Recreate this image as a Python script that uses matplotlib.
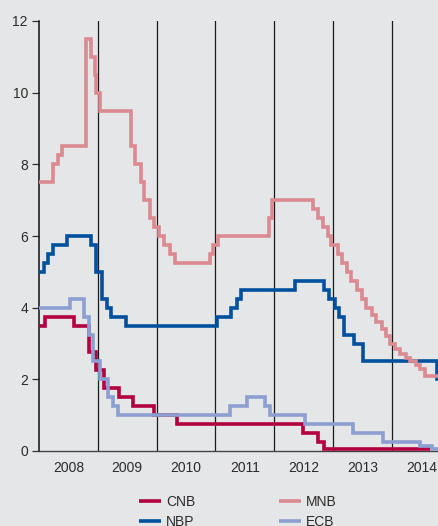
import numpy as np
import pandas as pd
import matplotlib
matplotlib.use("Agg")
import matplotlib.pyplot as plt

# policy rates (%), each value holds from its date until the next one
cnb_dates = ["2008-01-01", "2008-02-08", "2008-08-08", "2008-11-07", "2008-12-18",
             "2009-02-06", "2009-05-11", "2009-08-07", "2009-12-17", "2010-05-07",
             "2012-06-29", "2012-10-01", "2012-11-02", "2014-08-25"]
cnb_rates = [3.50, 3.75, 3.50, 2.75, 2.25,
             1.75, 1.50, 1.25, 1.00, 0.75,
             0.50, 0.25, 0.05, 0.05]

mnb_dates = ["2008-01-01", "2008-03-31", "2008-04-28", "2008-05-26", "2008-10-22",
             "2008-11-18", "2008-12-12", "2008-12-23", "2009-01-15", "2009-07-25",
             "2009-08-19", "2009-09-25", "2009-10-16", "2009-11-20", "2009-12-17",
             "2010-01-17", "2010-02-17", "2010-03-25", "2010-04-23", "2010-11-26",
             "2010-12-17", "2011-01-18", "2011-11-29", "2011-12-20", "2012-08-29",
             "2012-09-26", "2012-10-31", "2012-11-28", "2012-12-19", "2013-01-30",
             "2013-02-27", "2013-03-27", "2013-04-24", "2013-05-29", "2013-06-26",
             "2013-07-24", "2013-08-28", "2013-09-25", "2013-10-30", "2013-11-27",
             "2013-12-18", "2014-01-22", "2014-02-19", "2014-03-26", "2014-04-23",
             "2014-05-28", "2014-06-24", "2014-07-22", "2014-11-30"]
mnb_rates = [7.50, 8.00, 8.25, 8.50, 11.50,
             11.00, 10.50, 10.00, 9.50, 8.50,
             8.00, 7.50, 7.00, 6.50, 6.25,
             6.00, 5.75, 5.50, 5.25, 5.50,
             5.75, 6.00, 6.50, 7.00, 6.75,
             6.50, 6.25, 6.00, 5.75, 5.50,
             5.25, 5.00, 4.75, 4.50, 4.25,
             4.00, 3.80, 3.60, 3.40, 3.20,
             3.00, 2.85, 2.70, 2.60, 2.50,
             2.40, 2.30, 2.10, 2.10]

nbp_dates = ["2008-01-01", "2008-01-31", "2008-02-28", "2008-03-27", "2008-06-26",
             "2008-11-20", "2008-12-18", "2009-01-28", "2009-02-26", "2009-03-26",
             "2009-06-25", "2011-01-12", "2011-04-06", "2011-05-12", "2011-06-09",
             "2012-05-10", "2012-11-08", "2012-12-06", "2013-01-10", "2013-02-07",
             "2013-03-07", "2013-05-09", "2013-07-04", "2014-10-09", "2014-11-30"]
nbp_rates = [5.00, 5.25, 5.50, 5.75, 6.00,
             5.75, 5.00, 4.25, 4.00, 3.75,
             3.50, 3.75, 4.00, 4.25, 4.50,
             4.75, 4.50, 4.25, 4.00, 3.75,
             3.25, 3.00, 2.50, 2.00, 2.00]

ecb_dates = ["2008-01-01", "2008-07-09", "2008-10-08", "2008-11-05", "2008-12-03",
             "2009-01-14", "2009-03-06", "2009-04-03", "2009-05-08", "2011-04-01",
             "2011-07-13", "2011-11-03", "2011-12-08", "2012-07-09", "2013-05-02",
             "2013-11-07", "2014-06-25", "2014-09-08", "2014-11-30"]
ecb_rates = [4.00, 4.25, 3.75, 3.25, 2.50,
             2.00, 1.50, 1.25, 1.00, 1.25,
             1.50, 1.25, 1.00, 0.75, 0.50,
             0.25, 0.15, 0.05, 0.05]

year_labels = ["2008", "2009", "2010", "2011", "2012", "2013", "2014"]


def to_year(dates):
    t = pd.DatetimeIndex(pd.to_datetime(dates))
    days = np.where(t.is_leap_year, 366.0, 365.0)
    return np.asarray(t.year) + (np.asarray(t.dayofyear) - 1) / days


plt.rcParams["font.family"] = ["Liberation Sans", "DejaVu Sans"]
bg = "#e5e6e8"
txt = "#2b2b2b"

fig = plt.figure(figsize=(4.38, 5.26), dpi=100, facecolor=bg)
ax = fig.add_axes([39 / 438, 1 - 451 / 526, 399 / 438, 430 / 526])
ax.set_facecolor(bg)

x0 = int(year_labels[0])
x1 = x0 + 399 / 58.83
ax.set_xlim(x0, x1)
ax.set_ylim(0, 12)

# year separators
for yr in range(x0 + 1, int(year_labels[-1]) + 1):
    ax.axvline(yr, color="#1a1a1a", lw=0.9, zorder=1)

series = [
    ("CNB", cnb_dates, cnb_rates, "#b3003f"),
    ("NBP", nbp_dates, nbp_rates, "#00509e"),
    ("MNB", mnb_dates, mnb_rates, "#da8a90"),
    ("ECB", ecb_dates, ecb_rates, "#8d9fd0"),
]
handles = []
for name, d, r, c in series:
    h, = ax.plot(to_year(d), r, drawstyle="steps-post", color=c, lw=2.6,
                 solid_joinstyle="miter", solid_capstyle="butt", label=name,
                 zorder=3)
    handles.append(h)

ax.set_yticks(np.arange(0, 13, 2))
ax.set_xticks([int(y) + 0.5 for y in year_labels], year_labels)
ax.tick_params(axis="y", length=5, width=0.9, color="#333333", pad=3,
               labelsize=10, labelcolor=txt)
ax.tick_params(axis="x", length=0, pad=7, labelsize=10, labelcolor=txt)

for s in ("top", "right"):
    ax.spines[s].set_visible(False)
ax.spines["left"].set_color("#111111")
ax.spines["left"].set_linewidth(1.1)
ax.spines["bottom"].set_color("#444444")
ax.spines["bottom"].set_linewidth(1.0)

fig.legend(handles=handles, loc="upper left",
           bbox_to_anchor=(139 / 438, 1 - 495 / 526), ncol=2,
           frameon=False, fontsize=10, borderpad=0, borderaxespad=0,
           handlelength=1.6, handletextpad=0.36, columnspacing=6.0,
           labelspacing=0.45, labelcolor=txt)

fig.savefig("out.png", dpi=100, facecolor=bg)
